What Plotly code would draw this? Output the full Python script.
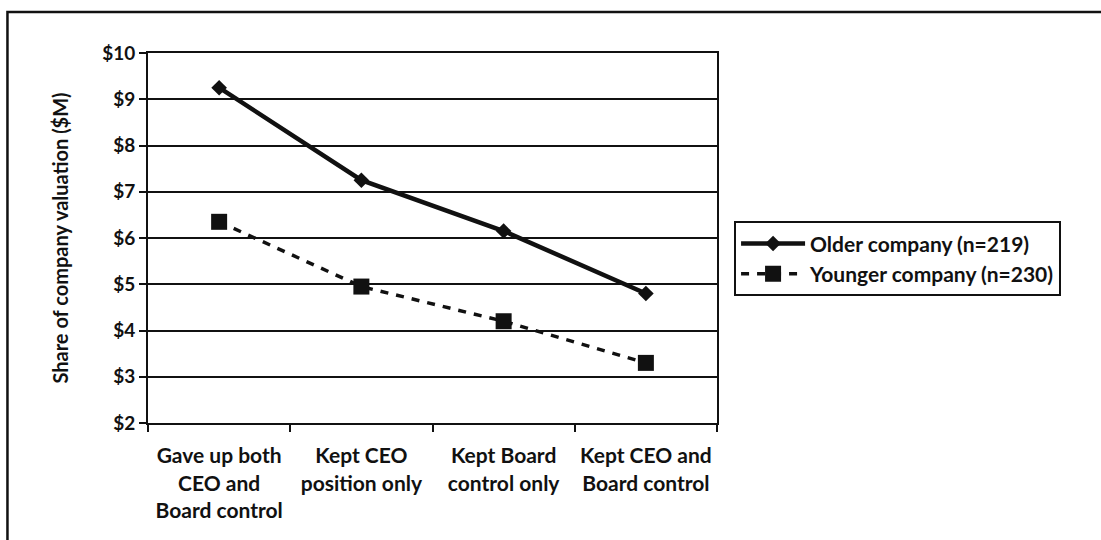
import plotly.graph_objects as go

categories = [
    "Gave up both<br>CEO and<br>Board control",
    "Kept CEO<br>position only",
    "Kept Board<br>control only",
    "Kept CEO and<br>Board control",
]
older_name = "Older company (n=219)"
younger_name = "Younger company (n=230)"
older_values = [9.25, 7.25, 6.15, 4.8]
younger_values = [6.35, 4.95, 4.2, 3.3]
y_ticks = [2, 3, 4, 5, 6, 7, 8, 9, 10]
y_tick_labels = ["$2", "$3", "$4", "$5", "$6", "$7", "$8", "$9", "$10"]
y_title = "Share of company valuation ($M)"

FONT = "Lato"
INK = "#111111"

fig = go.Figure()
fig.add_trace(go.Scatter(
    x=categories, y=older_values, name=older_name, mode="lines+markers",
    line=dict(color=INK, width=4.5),
    marker=dict(symbol="diamond", size=12, color=INK),
))
fig.add_trace(go.Scatter(
    x=categories, y=younger_values, name=younger_name, mode="lines+markers",
    line=dict(color=INK, width=3.5, dash="8px,8px"),
    marker=dict(symbol="square", size=16, color=INK),
))

fig.update_layout(
    width=1101, height=540,
    margin=dict(l=148, r=384, t=53, b=117, autoexpand=False),
    paper_bgcolor="white", plot_bgcolor="white",
    font=dict(family=FONT, color=INK, size=20, weight="bold"),
    showlegend=True,
    legend=dict(
        x=1.03, y=0.545, xanchor="left", yanchor="top",
        bordercolor=INK, borderwidth=2, bgcolor="white",
        font=dict(family=FONT, size=21, color=INK, weight="bold"),
        tracegroupgap=0, itemwidth=64,
    ),
    shapes=[dict(
        type="rect", xref="paper", yref="paper",
        x0=-0.247, x1=1.75, y0=-0.4, y1=1.111,
        line=dict(color=INK, width=2.5), fillcolor="rgba(0,0,0,0)", layer="below",
    )],
)

fig.update_xaxes(
    type="category", range=[-0.5, 3.5], showgrid=False, showline=True,
    linecolor=INK, linewidth=2, mirror=True, ticks="outside",
    tickson="boundaries", ticklen=7, tickwidth=2, tickcolor=INK,
    tickangle=0, automargin=False,
    tickfont=dict(family=FONT, size=21, color=INK, weight="bold"),
    ticklabelstandoff=13,
)
fig.update_yaxes(
    range=[2, 10], tickmode="array", tickvals=y_ticks, ticktext=y_tick_labels,
    showgrid=True, gridcolor=INK, gridwidth=2, zeroline=False,
    showline=True, linecolor=INK, linewidth=2, mirror=True,
    ticks="outside", ticklen=7, tickwidth=2, tickcolor=INK, automargin=False,
    tickfont=dict(family=FONT, size=19, color=INK, weight="bold"),
    title=dict(text=y_title, standoff=28,
               font=dict(family=FONT, size=20, color=INK, weight="bold")),
)

fig.write_html("out.html")
